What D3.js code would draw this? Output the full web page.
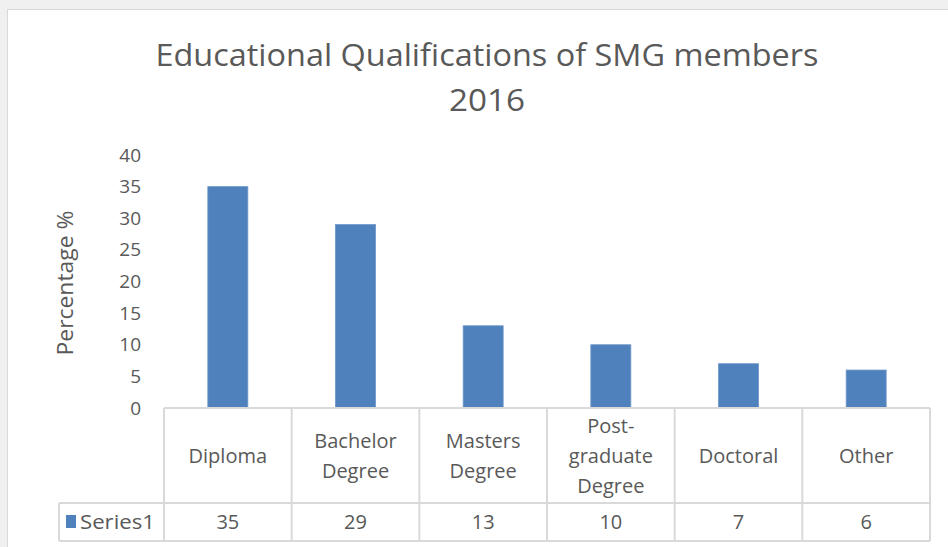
<!DOCTYPE html>
<html>
<head>
<meta charset="utf-8">
<script src="https://cdn.jsdelivr.net/npm/d3@7"></script>
<style>
  body { margin: 0; background: #f0f0f0; }
  svg { display: block; }
</style>
</head>
<body>
<script>
// Datos del gráfico
const categorias = ["Diploma", "Bachelor Degree", "Masters Degree", "Post-graduate Degree", "Doctoral", "Other"];
// Etiquetas partidas en líneas, como en la tabla de datos
const etiquetas = [["Diploma"], ["Bachelor", "Degree"], ["Masters", "Degree"], ["Post-", "graduate", "Degree"], ["Doctoral"], ["Other"]];
const valores = [35, 29, 13, 10, 7, 6];
const serie = "Series1";
const ticksY = [0, 5, 10, 15, 20, 25, 30, 35, 40];

const WIDTH = 948;
const HEIGHT = 547;
const COLOR_TEXTO = "#595959";
const COLOR_LINEA = "#d9d9d9";
const COLOR_BARRA = "#4f81bd";
const FUENTE = "'Open Sans', sans-serif";

const svg = d3.select("body").append("svg")
  .attr("width", WIDTH)
  .attr("height", HEIGHT);

// Fondo blanco del gráfico
svg.append("rect")
  .attr("x", 7.5).attr("y", 9.5)
  .attr("width", WIDTH).attr("height", HEIGHT)
  .attr("fill", "#fff")
  .attr("stroke", COLOR_LINEA);

// Escalas
const escalaX = d3.scaleBand()
  .domain(categorias)
  .range([164, 930])
  .paddingInner(0)
  .paddingOuter(0);

const escalaY = d3.scaleLinear()
  .domain([0, 40])
  .range([408, 155]);

// Título (ancho ajustado al del original con textLength)
const titulo = svg.append("text")
  .attr("text-anchor", "middle")
  .attr("font-family", FUENTE)
  .attr("font-size", 31)
  .attr("fill", COLOR_TEXTO);
titulo.append("tspan")
  .attr("x", 487).attr("y", 66)
  .attr("textLength", 663)
  .attr("lengthAdjust", "spacingAndGlyphs")
  .text("Educational Qualifications of SMG members");
titulo.append("tspan")
  .attr("x", 487).attr("y", 111)
  .attr("textLength", 76)
  .attr("lengthAdjust", "spacingAndGlyphs")
  .text("2016");

// Eje Y (solo etiquetas)
const ejeY = d3.axisLeft(escalaY).tickValues(ticksY).tickSize(0).tickPadding(0);
const gY = svg.append("g")
  .attr("transform", "translate(141,0)")
  .call(ejeY);
gY.select(".domain").remove();
gY.selectAll("text")
  .attr("font-family", FUENTE)
  .attr("font-size", 19)
  .attr("fill", COLOR_TEXTO);

// Título eje Y
svg.append("text")
  .attr("transform", "translate(73,283) rotate(-90)")
  .attr("text-anchor", "middle")
  .attr("font-family", FUENTE)
  .attr("font-size", 21)
  .attr("textLength", 145)
  .attr("lengthAdjust", "spacingAndGlyphs")
  .attr("fill", COLOR_TEXTO)
  .text("Percentage %");

// Barras
const anchoBarra = 40;
svg.append("g")
  .selectAll("rect")
  .data(valores)
  .join("rect")
  .attr("x", (d, i) => escalaX(categorias[i]) + escalaX.bandwidth() / 2 - anchoBarra / 2)
  .attr("y", d => escalaY(d))
  .attr("width", anchoBarra)
  .attr("height", d => escalaY(0) - escalaY(d))
  .attr("fill", COLOR_BARRA)
  .attr("stroke", "#6d96c8")
  .attr("stroke-width", 0.8);

// Tabla de datos
const yTop = 408, yMid = 503, yBot = 541;
const xIzq = 59;
const tabla = svg.append("g")
  .attr("stroke", COLOR_LINEA)
  .attr("stroke-width", 2)
  .attr("fill", "none");

tabla.append("line").attr("x1", 164).attr("x2", 930).attr("y1", yTop).attr("y2", yTop);
tabla.append("line").attr("x1", xIzq).attr("x2", 930).attr("y1", yMid).attr("y2", yMid);
tabla.append("line").attr("x1", xIzq).attr("x2", 930).attr("y1", yBot).attr("y2", yBot);
tabla.append("line").attr("x1", xIzq).attr("x2", xIzq).attr("y1", yMid).attr("y2", yBot);
tabla.selectAll(".v")
  .data(categorias.concat(["fin"]))
  .join("line")
  .attr("x1", (d, i) => i < categorias.length ? escalaX(d) : escalaX.range()[1])
  .attr("x2", (d, i) => i < categorias.length ? escalaX(d) : escalaX.range()[1])
  .attr("y1", yTop)
  .attr("y2", yBot);

// Etiquetas de categoría
const lineaAlto = 30;
svg.append("g")
  .selectAll("text")
  .data(etiquetas)
  .join("text")
  .attr("text-anchor", "middle")
  .attr("font-family", FUENTE)
  .attr("font-size", 20)
  .attr("fill", COLOR_TEXTO)
  .each(function (lineas, i) {
    const cx = escalaX(categorias[i]) + escalaX.bandwidth() / 2;
    const cy = (yTop + yMid) / 2;
    const y0 = cy - (lineas.length - 1) * lineaAlto / 2 + 7;
    d3.select(this).selectAll("tspan")
      .data(lineas)
      .join("tspan")
      .attr("x", cx)
      .attr("y", (l, j) => y0 + j * lineaAlto)
      .text(l => l);
  });

// Valores en la tabla
svg.append("g")
  .selectAll("text")
  .data(valores)
  .join("text")
  .attr("x", (d, i) => escalaX(categorias[i]) + escalaX.bandwidth() / 2)
  .attr("y", (yMid + yBot) / 2 + 7)
  .attr("text-anchor", "middle")
  .attr("font-family", FUENTE)
  .attr("font-size", 20)
  .attr("fill", COLOR_TEXTO)
  .text(d => d);

// Leyenda de la serie
svg.append("rect")
  .attr("x", 66).attr("y", 515)
  .attr("width", 10).attr("height", 13)
  .attr("fill", COLOR_BARRA);
svg.append("text")
  .attr("x", 80).attr("y", (yMid + yBot) / 2 + 7)
  .attr("font-family", FUENTE)
  .attr("font-size", 20)
  .attr("textLength", 75)
  .attr("lengthAdjust", "spacingAndGlyphs")
  .attr("fill", COLOR_TEXTO)
  .text(serie);
</script>
</body>
</html>
